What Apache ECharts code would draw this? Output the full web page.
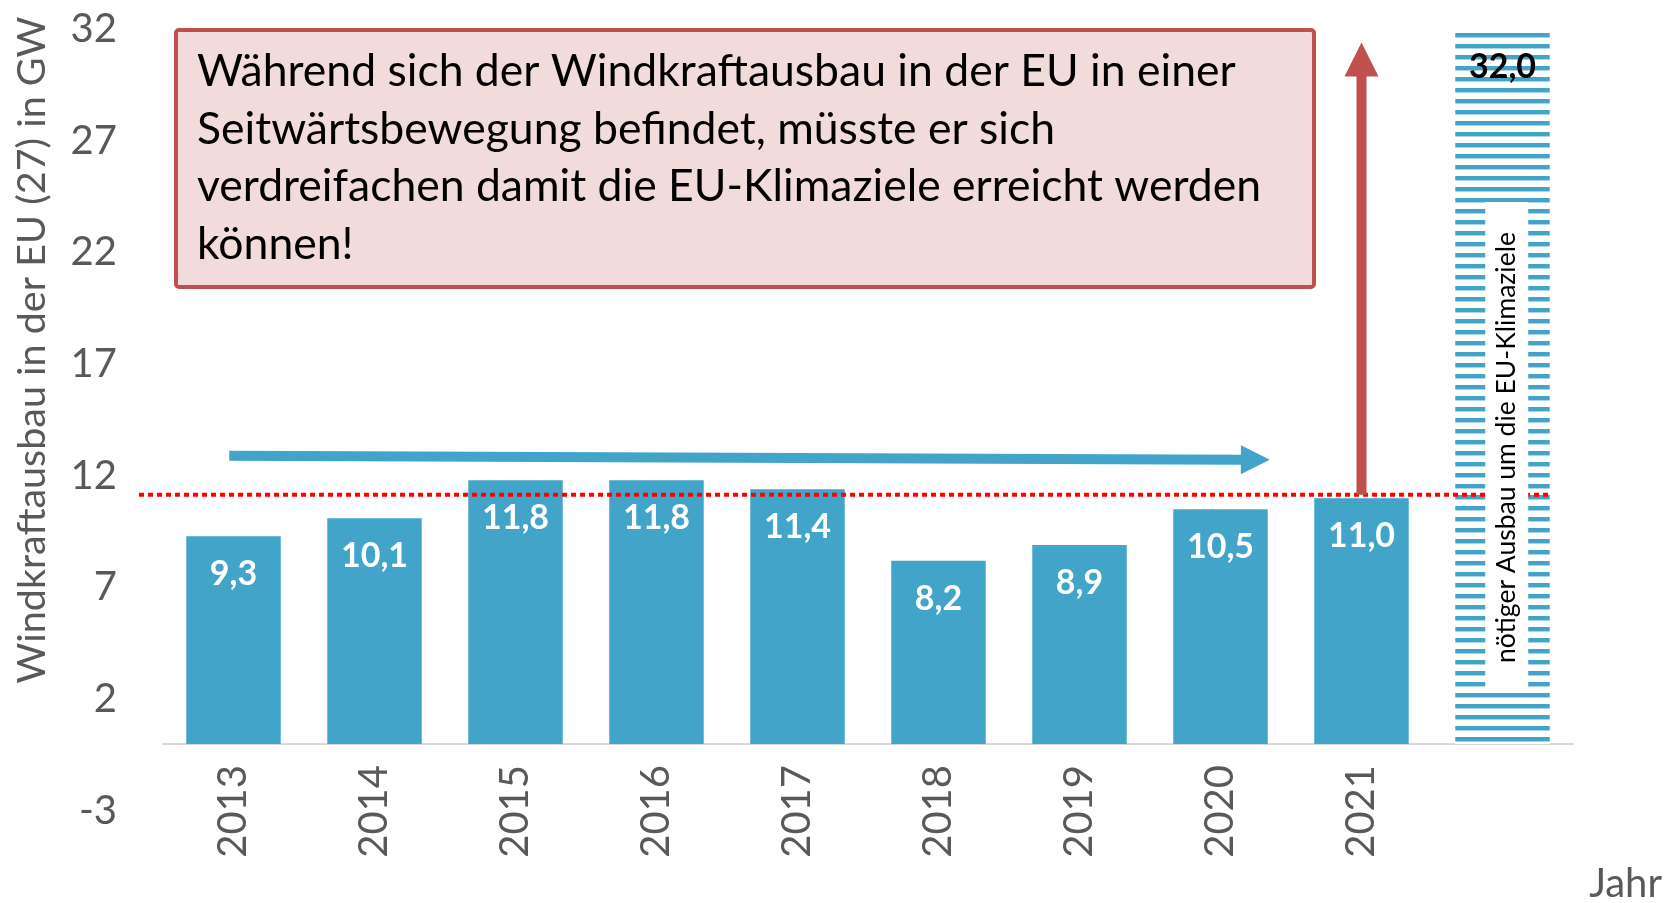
<!DOCTYPE html>
<html>
<head>
<meta charset="utf-8">
<script src="https://cdn.jsdelivr.net/npm/echarts@6/dist/echarts.min.js"></script>
<style>
  html, body { margin: 0; padding: 0; background: #fff; }
  #chart { width: 1674px; height: 903px; }
</style>
</head>
<body>
<div id="chart"></div>
<script>
// data
const years = ['2013', '2014', '2015', '2016', '2017', '2018', '2019', '2020', '2021', ''];
const values = [9.3, 10.1, 11.8, 11.8, 11.4, 8.2, 8.9, 10.5, 11.0];
const targetValue = 32.0;
const yTicks = [-3, 2, 7, 12, 17, 22, 27, 32];
const refLevel = 11.15;
const boxLines = [
  'Während sich der Windkraftausbau in der EU in einer',
  'Seitwärtsbewegung befindet, müsste er sich',
  'verdreifachen damit die EU-Klimaziele erreicht werden',
  'können!'
];
const targetNote = 'nötiger Ausbau um die EU-Klimaziele';
const yName = 'Windkraftausbau in der EU (27) in GW';
const xName = 'Jahr';

const BLUE = '#41A4C8';
const RED = '#C0504D';
const FONT = 'Lato';

// striped fill for the target bar
const stripe = document.createElement('canvas');
stripe.width = 10;
stripe.height = 11;
const sctx = stripe.getContext('2d');
sctx.fillStyle = '#fff';
sctx.fillRect(0, 0, 10, 11);
sctx.fillStyle = BLUE;
sctx.fillRect(0, 0, 10, 4);
sctx.fillStyle = '#A9D5E6';
sctx.fillRect(0, 4, 10, 1);

const fmt = v => v.toFixed(1).replace('.', ',');

const barData = values.map(v => v).concat([{
  value: targetValue,
  itemStyle: { color: { image: stripe, repeat: 'repeat' } },
  label: { color: '#000' }
}]);

const chart = echarts.init(document.getElementById('chart'));

chart.setOption({
  backgroundColor: '#fff',
  animation: false,
  grid: { left: 163, right: 101, top: 29, bottom: 92, outerBoundsMode: 'none' },
  xAxis: {
    type: 'category',
    data: years,
    axisLine: { lineStyle: { color: '#D9D9D9', width: 2 } },
    axisTick: { show: false },
    axisLabel: {
      rotate: 90,
      margin: -46,
      fontSize: 40,
      fontFamily: FONT,
      color: '#595959'
    }
  },
  yAxis: {
    type: 'value',
    min: -3,
    max: 32,
    interval: 5,
    axisLine: { show: false },
    axisTick: { show: false },
    splitLine: { show: false },
    axisLabel: {
      customValues: yTicks,
      margin: 46,
      fontSize: 40,
      fontFamily: FONT,
      color: '#595959'
    }
  },
  series: [{
    type: 'bar',
    data: barData,
    barWidth: '67%',
    itemStyle: { color: BLUE },
    label: {
      show: true,
      position: 'insideTop',
      distance: 21,
      color: '#fff',
      fontWeight: 'bold',
      fontSize: 34,
      fontFamily: FONT,
      formatter: p => fmt(p.value)
    },
    z: 2
  }]
});

// annotations anchored to the axes
const c0 = chart.convertToPixel({ xAxisIndex: 0 }, 0);
const c1 = chart.convertToPixel({ xAxisIndex: 0 }, 1);
const step = c1 - c0;
const xAt = i => c0 + i * step;
const yAt = v => chart.convertToPixel({ yAxisIndex: 0 }, v);

function arrow(x0, y0, x1, y1, w, hw, hl) {
  const dx = x1 - x0, dy = y1 - y0, L = Math.hypot(dx, dy);
  const ux = dx / L, uy = dy / L, nx = -uy, ny = ux;
  const bx = x1 - ux * hl, by = y1 - uy * hl;
  return [
    [x0 + nx * w / 2, y0 + ny * w / 2],
    [bx + nx * w / 2, by + ny * w / 2],
    [bx + nx * hw / 2, by + ny * hw / 2],
    [x1, y1],
    [bx - nx * hw / 2, by - ny * hw / 2],
    [bx - nx * w / 2, by - ny * w / 2],
    [x0 - nx * w / 2, y0 - ny * w / 2]
  ];
}

const noteX = xAt(9.03), noteY = yAt(13.4);

chart.setOption({
  graphic: [
    {
      type: 'rect', z: 20,
      shape: { x: 176, y: 30, width: 1138, height: 257, r: 3 },
      style: { fill: '#F2DCDB', stroke: RED, lineWidth: 4 }
    },
    {
      type: 'text', z: 21, x: 197, y: 43,
      style: {
        text: boxLines.join('\n'),
        font: '44.5px ' + FONT,
        fill: '#000',
        lineHeight: 57.5,
        verticalAlign: 'top'
      }
    },
    {
      type: 'line', z: 10,
      shape: { x1: xAt(-0.67), y1: yAt(refLevel), x2: xAt(9.34), y2: yAt(refLevel) },
      style: { stroke: '#FF0000', lineWidth: 4, lineDash: [5, 4] }
    },
    {
      type: 'polygon', z: 12,
      shape: { points: arrow(xAt(-0.03), yAt(12.9), xAt(7.35), yAt(12.72), 10, 29, 29) },
      style: { fill: BLUE }
    },
    {
      type: 'polygon', z: 12,
      shape: { points: arrow(xAt(8), yAt(refLevel), xAt(8), yAt(31.4), 10, 34, 34) },
      style: { fill: RED }
    },
    {
      type: 'group', z: 14, x: noteX, y: noteY,
      children: [
        {
          type: 'rect', z: 14,
          shape: { x: -21.5, y: -242.5, width: 43, height: 485 },
          style: { fill: '#fff' }
        },
        {
          type: 'text', z: 15, rotation: Math.PI / 2, x: 0, y: 3,
          style: {
            text: targetNote,
            font: '26.5px ' + FONT,
            fill: '#000',
            align: 'center',
            verticalAlign: 'middle'
          }
        }
      ]
    },
    {
      type: 'text', z: 10, rotation: Math.PI / 2, x: 32, y: 350,
      style: {
        text: yName,
        font: '39.5px ' + FONT,
        fill: '#595959',
        align: 'center',
        verticalAlign: 'middle'
      }
    },
    {
      type: 'text', z: 10, x: 1662, y: 884,
      style: {
        text: xName,
        font: '40px ' + FONT,
        fill: '#595959',
        align: 'right',
        verticalAlign: 'middle'
      }
    }
  ]
});
</script>
</body>
</html>
